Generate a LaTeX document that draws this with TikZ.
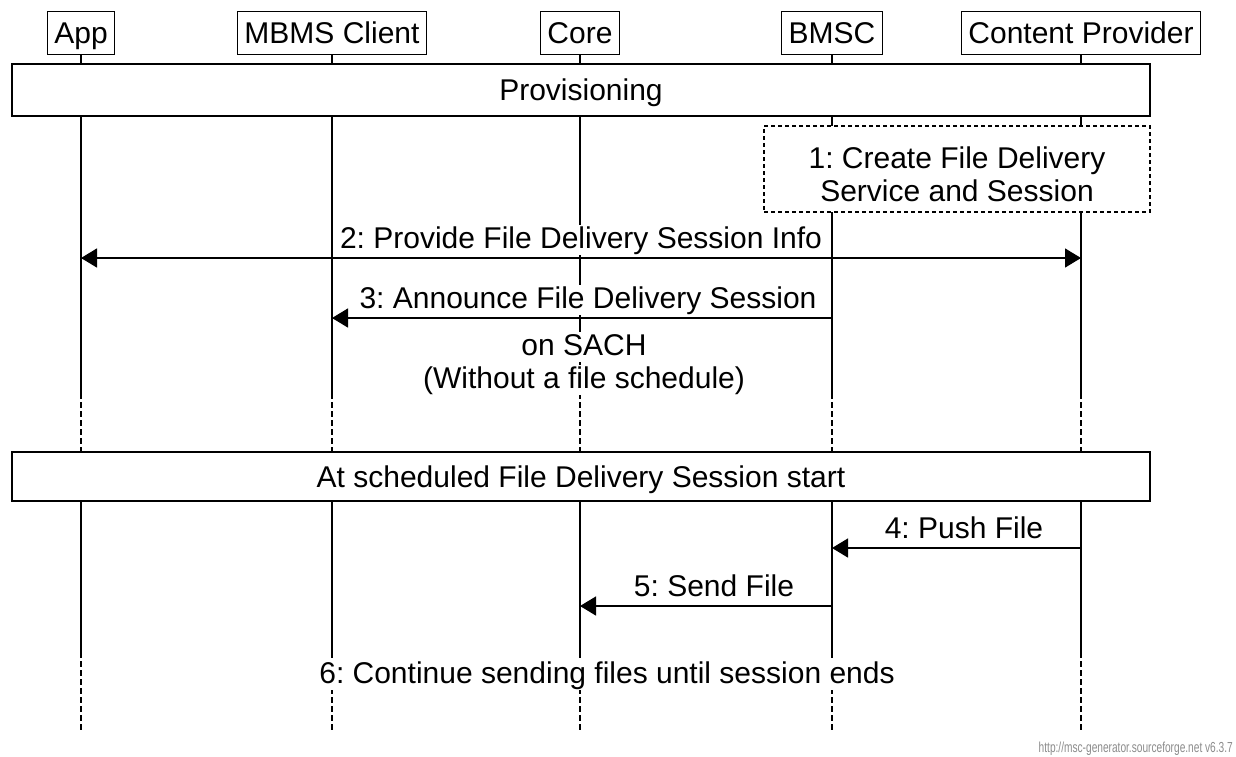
\documentclass[tikz,border=0pt]{standalone}
\usepackage{fontspec}
\setmainfont{Liberation Sans}
\usetikzlibrary{arrows.meta}
\frenchspacing
\begin{document}
\begin{tikzpicture}[x=1pt,y=-1pt,
  every node/.style={font=\fontsize{30}{33}\selectfont},
  hdr/.style={draw,line width=1.4pt,fill=white,inner xsep=7pt,inner ysep=0pt,minimum height=43pt,text height=21.6pt,text depth=0pt},
  bigbox/.style={draw,line width=1.4pt,fill=white,inner sep=0pt,text height=21.6pt,text depth=0pt},
  lbl/.style={fill=white,inner xsep=1pt,inner ysep=1pt,text height=21.6pt,text depth=6.3pt,anchor=base},
  life/.style={line width=1.3pt},
  lifedash/.style={line width=1.3pt,dash pattern=on 6pt off 3pt},
  msg/.style={line width=1.4pt,-{Triangle[length=16pt,width=19pt]}},
  msgboth/.style={line width=1.4pt,{Triangle[length=16pt,width=19pt]}-{Triangle[length=16pt,width=19pt]}}
]
\useasboundingbox (0,0) rectangle (1236,756);
\fill[white] (0,0) rectangle (1236,756);

% lifeline coordinates
\foreach \n/\x in {app/81,mbms/332,core/580,bmsc/832,cp/1081}{
  \coordinate (\n a) at (\x,54);
  \coordinate (\n b) at (\x,393);
  \coordinate (\n c) at (\x,452);
  \coordinate (\n d) at (\x,501);
  \coordinate (\n e) at (\x,652);
  \coordinate (\n f) at (\x,730);
  \draw[life] (\n a) -- (\n b);
  \draw[lifedash] (\n b) -- (\n c);
  \draw[life] (\n d) -- (\n e);
  \draw[lifedash] (\n e) -- (\n f);
}

% headers
\node[hdr] (app) at (81,33) {App};
\node[hdr] (mbms) at (332,33) {MBMS Client};
\node[hdr] (core) at (580,33) {Core};
\node[hdr] (bmsc) at (832,33) {BMSC};
\node[hdr] (cp) at (1081,33) {Content Provider};

% provisioning
\node[bigbox,minimum width=1138pt,minimum height=52pt] (prov) at (581,90) {Provisioning};

% step 1 dashed box
\node[draw,line width=1.3pt,dash pattern=on 4pt off 3pt,fill=white,minimum width=386pt,minimum height=86pt,inner sep=0pt] (create) at (957,169) {};
\node[lbl] (create1) at (957,168) {1: Create File Delivery};
\node[lbl] (create2) at (957,201) {Service and Session};

% step 2
\coordinate (m2a) at (81,258);
\coordinate (m2b) at (1081,258);
\draw[msgboth] (m2a) -- (m2b);
\node[lbl] (l2) at (581,248) {2: Provide File Delivery Session Info};

% step 3
\coordinate (m3a) at (832,318);
\coordinate (m3b) at (332,318);
\draw[msg] (m3a) -- (m3b);
\node[lbl] (l3) at (588,308) {3: Announce File Delivery Session};
\node[lbl] (l3b) at (584,355) {on SACH};
\node[lbl] (l3c) at (584,388) {(Without a file schedule)};

% scheduled start
\node[bigbox,minimum width=1138pt,minimum height=49pt] (sched) at (581,476.5) {At scheduled File Delivery Session start};

% step 4
\coordinate (m4a) at (1081,548);
\coordinate (m4b) at (832,548);
\draw[msg] (m4a) -- (m4b);
\node[lbl] (l4) at (964,538) {4: Push File};

% step 5
\coordinate (m5a) at (832,606);
\coordinate (m5b) at (580,606);
\draw[msg] (m5a) -- (m5b);
\node[lbl] (l5) at (714,596) {5: Send File};

% step 6
\node[lbl] (l6) at (607,683) {6: Continue sending files until session ends};

% footer
\node[anchor=base east,inner sep=0pt,text=black!45,font=\fontsize{14.5}{16}\selectfont] (foot) at (1233,752) {\scalebox{0.7}[1]{http://msc-generator.sourceforge.net v6.3.7}};
\end{tikzpicture}
\end{document}
